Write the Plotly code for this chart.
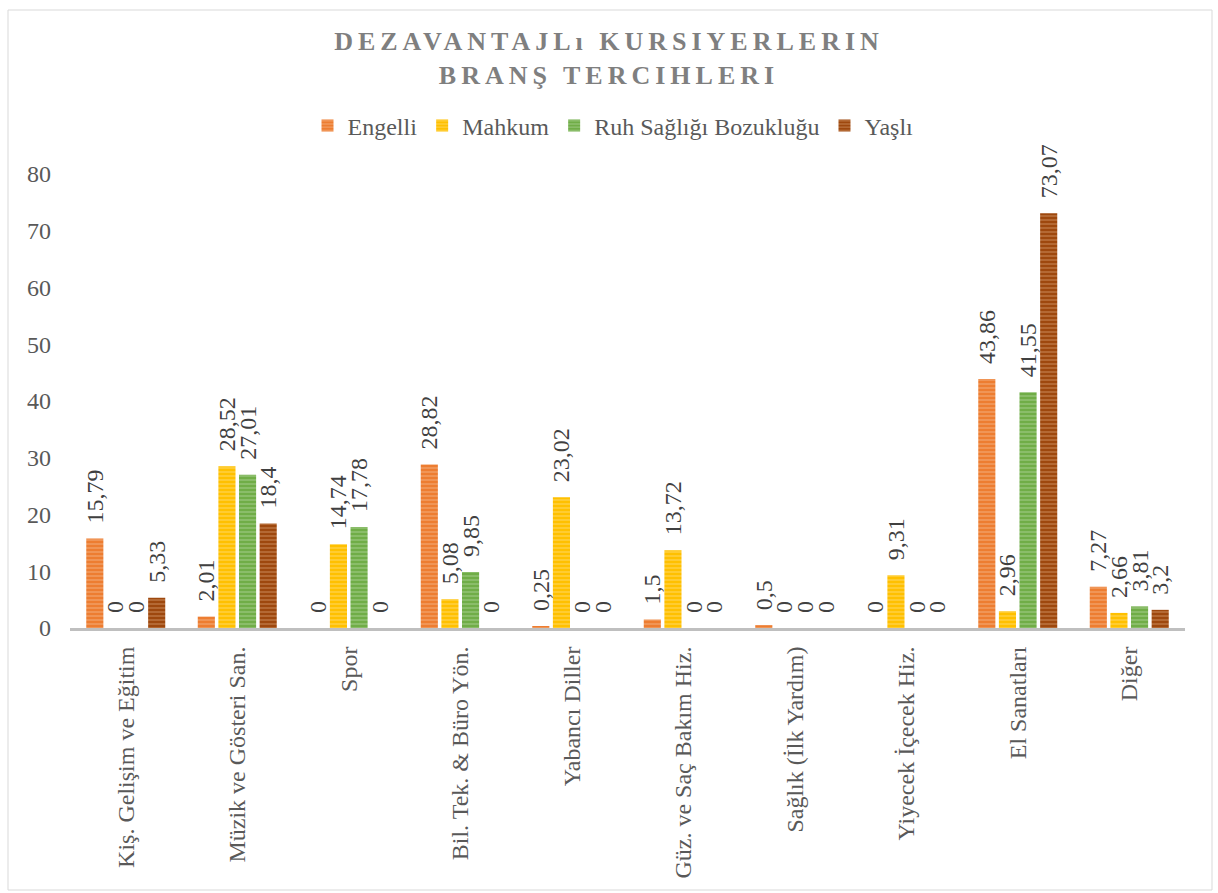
import plotly.graph_objects as go

categories = ["Kiş. Gelişim ve Eğitim", "Müzik ve Gösteri San.", "Spor", "Bil. Tek. & Büro Yön.",
              "Yabancı Diller", "Güz. ve Saç Bakım Hiz.", "Sağlık (İlk Yardım)", "Yiyecek İçecek Hiz.",
              "El Sanatları", "Diğer"]
engelli = [15.79, 2.01, 0, 28.82, 0.25, 1.5, 0.5, 0, 43.86, 7.27]
mahkum = [0, 28.52, 14.74, 5.08, 23.02, 13.72, 0, 9.31, 2.96, 2.66]
ruh = [0, 27.01, 17.78, 9.85, 0, 0, 0, 0, 41.55, 3.81]
yasli = [5.33, 18.4, 0, 0, 0, 0, 0, 0, 73.07, 3.2]

series = [
    ("Engelli", engelli, "#ED7D31", "#F7B98F"),
    ("Mahkum", mahkum, "#FFC000", "#FFE07A"),
    ("Ruh Sağlığı Bozukluğu", ruh, "#70AD47", "#B2D69A"),
    ("Yaşlı", yasli, "#9E480E", "#D69A6E"),
]

FONT = "Liberation Serif, Times New Roman, serif"

fig = go.Figure()
for name, vals, col, light in series:
    fig.add_trace(go.Bar(
        name=name, x=categories, y=vals,
        marker=dict(color=col, line=dict(width=0),
                    pattern=dict(shape="-", fgcolor=light, size=4, solidity=0.4, fillmode="overlay")),
        texttemplate="\u00a0\u00a0%{y}", textposition="outside", textangle=-90,
        constraintext="none", cliponaxis=False,
        textfont=dict(family=FONT, size=24, color="#404040"),
    ))

L, R, T, B = 70, 33, 174, 265
W, H = 1218, 893
pw, ph = W - L - R, H - T - B

fig.update_layout(
    width=W, height=H,
    margin=dict(l=L, r=R, t=T, b=B),
    paper_bgcolor="white", plot_bgcolor="white",
    separators=",.",
    barmode="group", bargap=0.26, bargroupgap=0.17,
    font=dict(family=FONT, color="#595959"),
    title=dict(text="DEZAVANTAJLı KURSIYERLERIN<br>BRANŞ TERCIHLERI",
               x=0.5, xanchor="center", y=1 - 50 / H, yanchor="middle",
               font=dict(family=FONT, size=26, color="#7F7F7F", weight="bold")),
    legend=dict(orientation="h", x=0.487, xanchor="center", y=1 - 126 / H, yref="container",
                yanchor="middle", font=dict(family=FONT, size=24, color="#595959"),
                itemwidth=30, tracegroupgap=0),
    xaxis=dict(showline=True, linecolor="#BFBFBF", linewidth=3, ticks="", showgrid=False,
               tickangle=-90, tickfont=dict(family=FONT, size=24, color="#595959"),
               ticklabelstandoff=6),
    yaxis=dict(range=[0, 80], dtick=10, showgrid=False, zeroline=False, showline=False,
               ticks="", tickfont=dict(family=FONT, size=24, color="#595959"),
               ticklabelstandoff=18),
    showlegend=True,
)

fig.add_shape(type="rect", xref="paper", yref="paper",
              x0=(8 - L) / pw, x1=(1212 - L) / pw,
              y0=-(890 - (H - B)) / ph, y1=((H - B) - 10) / ph,
              line=dict(color="#D9D9D9", width=1), fillcolor="rgba(0,0,0,0)", layer="below")

post = """
document.body.style.margin='0';
document.querySelectorAll('.gtitle').forEach(function(el){el.style.letterSpacing='5px';});
"""
fig.write_html("out.html", post_script=post, config={"displayModeBar": False})
